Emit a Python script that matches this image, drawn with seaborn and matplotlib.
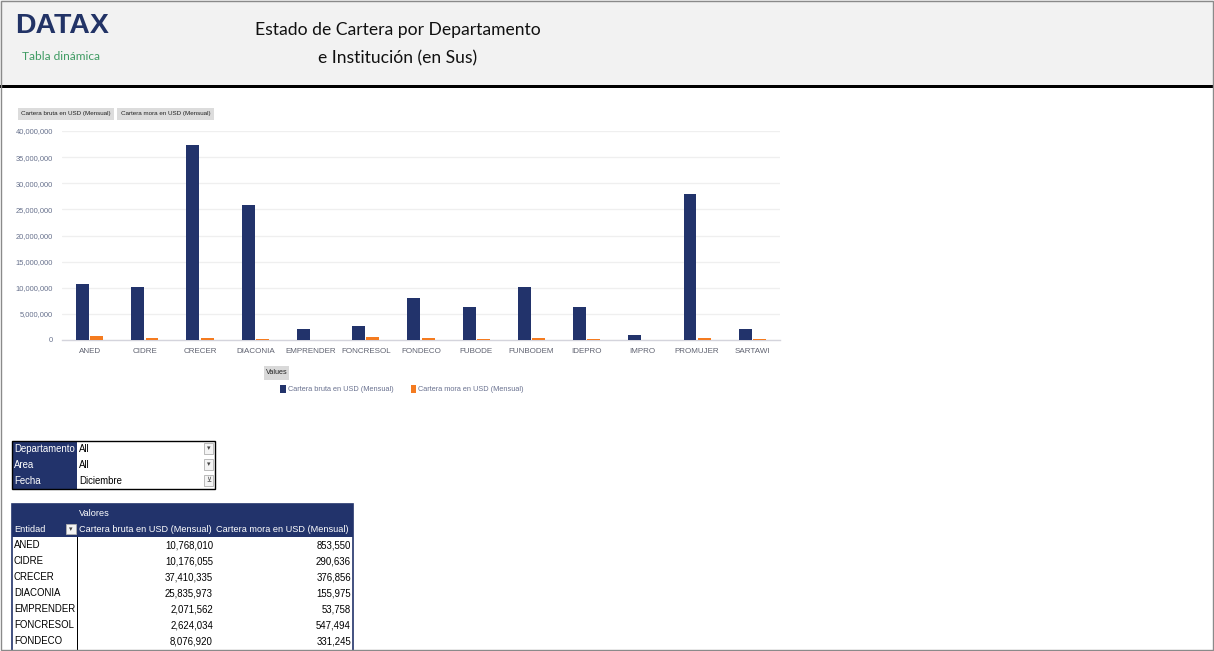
import matplotlib
matplotlib.use("Agg")
import matplotlib.pyplot as plt
from matplotlib.patches import Rectangle
from matplotlib.ticker import FuncFormatter
import seaborn as sns
import pandas as pd

# ---------------- data ----------------
entidades = ["ANED", "CIDRE", "CRECER", "DIACONIA", "EMPRENDER", "FONCRESOL",
             "FONDECO", "FUBODE", "FUNBODEM", "IDEPRO", "IMPRO", "PROMUJER", "SARTAWI"]
cartera_bruta = [10768010, 10176055, 37410335, 25835973, 2071562, 2624034,
                 8076920, 6400000, 10050000, 6400000, 960000, 27900000, 2100000]
cartera_mora = [853550, 290636, 376856, 155975, 53758, 547494,
                331245, 120000, 300000, 180000, 90000, 350000, 110000]
serie_bruta = "Cartera bruta en USD (Mensual)"
serie_mora = "Cartera mora en USD (Mensual)"
filtros = ["Departamento", "Area", "Fecha"]
filtros_valor = ["All", "All", "Diciembre"]
y_ticks = [0, 5000000, 10000000, 15000000, 20000000, 25000000, 30000000, 35000000, 40000000]
filas_tabla = 7

NAVY = "#22336b"
ORANGE = "#f47b20"
SANS = "Liberation Sans"

sns.set_theme(style="white")
plt.rcParams["font.family"] = [SANS, "DejaVu Sans"]

W, H = 1214, 651
fig = plt.figure(figsize=(W / 100, H / 100), dpi=100)
fig.patch.set_facecolor("white")


def fx(x):
    return x / W


def fy(y):
    return 1 - y / H


def rect(x0, y0, x1, y1, fc="none", ec="none", lw=0, z=1):
    r = Rectangle((fx(x0), fy(y1)), fx(x1) - fx(x0), fy(y0) - fy(y1),
                  transform=fig.transFigure, facecolor=fc, edgecolor=ec,
                  linewidth=lw, zorder=z)
    fig.add_artist(r)
    return r


def txt(x, y, s, **kw):
    kw.setdefault("va", "center")
    return fig.text(fx(x), fy(y), s, **kw)


# ---------------- header ----------------
rect(0, 0, W, 86, fc="#f2f2f2")
rect(0, 85, W, 87.5, fc="black")
txt(15, 26, "DATAX", fontsize=20.5, fontweight="bold", color="#223366",
    family=SANS, ha="left")
txt(22, 56, "Tabla dinámica", fontsize=8.6, color="#3f9b63", ha="left", family="Lato")
txt(398, 30, "Estado de Cartera por Departamento", fontsize=12.6, color="#111111",
    ha="center", family="Lato")
txt(398, 58, "e Institución (en Sus)", fontsize=12.6, color="#111111",
    ha="center", family="Lato")

# ---------------- chart ----------------
df = pd.DataFrame({
    "Entidad": entidades * 2,
    "Serie": [serie_bruta] * len(entidades) + [serie_mora] * len(entidades),
    "Valor": cartera_bruta + cartera_mora,
})
ax = fig.add_axes([fx(62), fy(340), fx(780) - fx(62), fy(131) - fy(340)])
sns.barplot(data=df, x="Entidad", y="Valor", hue="Serie", palette=[NAVY, ORANGE],
            width=0.52, gap=0.1, ax=ax, errorbar=None, saturation=1, linewidth=0)
ax.set_xlim(-0.5, len(entidades) - 0.5)
ax.set_ylim(0, 40000000)
ax.set_yticks(y_ticks)
ax.yaxis.set_major_formatter(FuncFormatter(lambda v, p: f"{int(v):,}"))
ax.grid(axis="y", color="#efefef", linewidth=0.9)
ax.set_axisbelow(True)
for s in ["top", "right", "left"]:
    ax.spines[s].set_visible(False)
ax.spines["bottom"].set_color("#d4d4dc")
ax.spines["bottom"].set_linewidth(1.0)
ax.spines["bottom"].set_zorder(0.5)
ax.set_xlabel("")
ax.set_ylabel("")
ax.tick_params(axis="y", labelsize=5.4, labelcolor="#66708c", length=0, pad=6.5)
ax.tick_params(axis="x", labelsize=5.8, labelcolor="#5f6270", length=0, pad=6)
ax.set_facecolor("none")
leg = ax.legend(loc="center", bbox_to_anchor=(fx(402), fy(389)),
                bbox_transform=fig.transFigure, ncol=2, frameon=False,
                fontsize=5.3, handlelength=0.75, handleheight=1.3,
                handletextpad=0.25, columnspacing=2.4)
for t in leg.get_texts():
    t.set_color("#6a7290")

# field buttons
rect(18, 108, 114, 120, fc="#dcdcdc")
txt(66, 114, serie_bruta, fontsize=4.5, ha="center", color="#222222")
rect(117, 108, 214, 120, fc="#dcdcdc")
txt(165.5, 114, serie_mora, fontsize=4.5, ha="center", color="#222222")
rect(264, 366, 289, 380, fc="#d9d9d9")
txt(276.5, 373, "Values", fontsize=5.2, ha="center", color="#222222")

# ---------------- filter box ----------------
for i, (f, v) in enumerate(zip(filtros, filtros_valor)):
    y0 = 441 + 16 * i
    rect(12, y0, 77, y0 + 16, fc=NAVY)
    txt(14, y0 + 8, f, fontsize=6.9, color="white", ha="left")
    txt(79, y0 + 8, v, fontsize=6.9, color="black", ha="left")
    rect(204, y0 + 2, 213, y0 + 13, fc="#f4f4f4", ec="#b0b0b0", lw=0.6, z=3)
    txt(208.5, y0 + 7.5, "▾" if i < 2 else "⊻", fontsize=5, color="#444444",
        ha="center", family="DejaVu Sans", zorder=4)
rect(12, 441, 215, 489, ec="black", lw=1.0, z=5)

# ---------------- pivot table ----------------
rect(12, 504, 353, 537, fc=NAVY)
txt(79, 513, "Valores", fontsize=6.6, color="white", ha="left")
txt(14, 529, "Entidad", fontsize=6.6, color="white", ha="left")
rect(66, 524, 76, 534, fc="#f4f4f4", ec="#b0b0b0", lw=0.6, z=3)
txt(71, 529, "▾", fontsize=5, color="#444444", ha="center", family="DejaVu Sans", zorder=4)
txt(79, 529, serie_bruta, fontsize=6.6, color="white", ha="left")
txt(216, 529, serie_mora, fontsize=6.6, color="white", ha="left")
for i in range(filas_tabla):
    yc = 545 + 16 * i
    txt(14, yc, entidades[i], fontsize=6.9, color="black", ha="left")
    txt(213, yc, f"{cartera_bruta[i]:,}", fontsize=6.9, color="black", ha="right")
    txt(351, yc, f"{cartera_mora[i]:,}", fontsize=6.9, color="black", ha="right")
rect(12, 504, 353, 660, ec=NAVY, lw=1.2, z=5)
rect(77, 537, 77.8, 660, fc="black", z=6)

# ---------------- outer border ----------------
rect(0.5, 0.5, W - 1.5, H - 1.0, ec="#8a8a8a", lw=1.0, z=10)

fig.savefig("out.png", dpi=100, facecolor="white")
